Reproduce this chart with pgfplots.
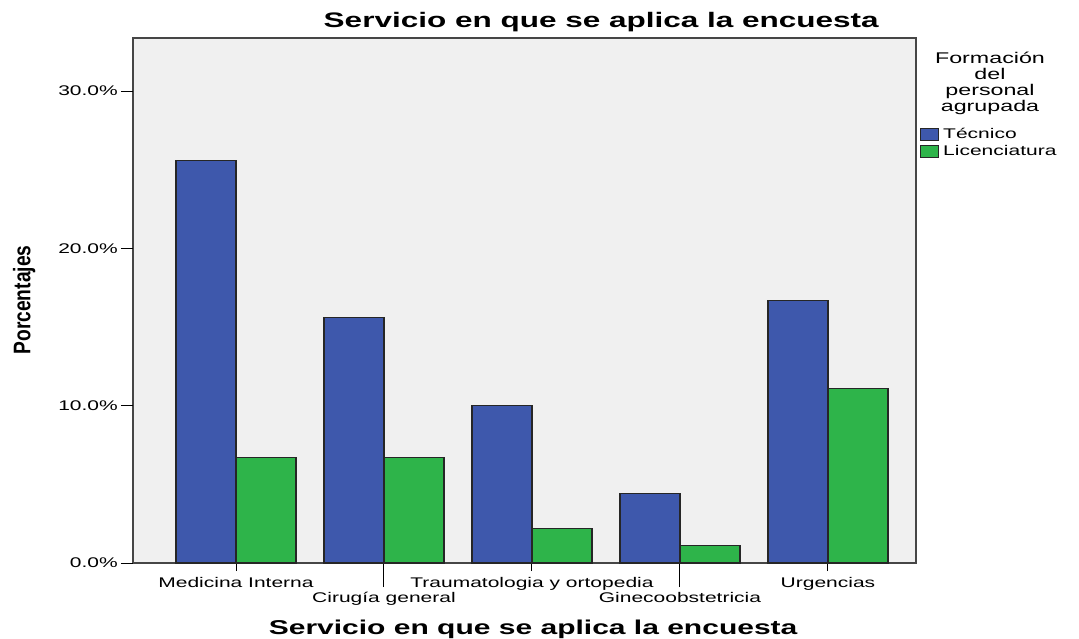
\documentclass[border=0pt]{standalone}
\usepackage{fontspec}
\setmainfont{Liberation Sans}[FakeStretch=1.5]
\newfontfamily\plainsans{Liberation Sans}
\usepackage{pgfplots}
\pgfplotsset{compat=1.18}
\definecolor{tec}{RGB}{62,88,172}
\definecolor{lic}{RGB}{46,180,74}
\definecolor{bgc}{RGB}{240,240,240}
\definecolor{frame}{RGB}{70,70,70}
\begin{document}
\begin{tikzpicture}[x=1pt,y=1pt]
\useasboundingbox (0,0) rectangle (1079,638);
\begin{axis}[
  at={(133pt,75pt)}, anchor=south west,
  scale only axis, width=783pt, height=525pt,
  xmin=-0.696, xmax=4.595, ymin=0, ymax=33.37,
  axis background/.style={fill=bgc},
  axis line style={frame, line width=1.2pt},
  ybar=0pt, bar width=60pt,
  tick align=outside, tick pos=left,
  major tick length=8pt,
  tick style={black, line width=1pt},
  xtick={0,2,4},
  xticklabels={Medicina Interna,Traumatologia y ortopedia,Urgencias},
  extra x ticks={1,3},
  extra x tick labels={Cirugía general,Ginecoobstetricia},
  extra x tick style={major tick length=24pt, tick label style={yshift=1pt}},
  xticklabel style={font=\fontsize{14}{16}\selectfont, anchor=base, yshift=-16pt},
  ytick=\empty,
  extra y ticks={0,10,20,30},
  extra y tick labels={0.0\%,10.0\%,20.0\%,30.0\%},
  extra y tick style={major tick length=12pt},
  yticklabel style={font=\fontsize{14}{16}\selectfont, anchor=east, inner sep=0pt, xshift=-3pt},
  title={Servicio en que se aplica la encuesta},
  title style={font=\fontsize{21}{25}\selectfont\bfseries, at={(0.598,1)}, anchor=base, yshift=4pt},
  xlabel={Servicio en que se aplica la encuesta},
  xlabel style={font=\fontsize{20}{24}\selectfont\bfseries, at={(0.511,0)}, anchor=base, yshift=-71pt},
  ylabel={\scalebox{0.8}[1]{\plainsans\bfseries\fontsize{24}{26}\selectfont Porcentajes}},
  ylabel style={at={(-0.139,0.501)}, anchor=center, rotate=0},
  legend style={at={(1.005,0.830)}, anchor=north west, draw=none, fill=none,
    font=\fontsize{14}{16}\selectfont, row sep=3pt, inner sep=0pt,
    nodes={inner sep=1pt, anchor=west}},
  legend cell align=left,
  legend image code/.code={\draw[#1, line width=1pt] (0pt,-6pt) rectangle (18pt,6pt); \path (21pt,0pt);},
]
\addplot[fill=tec, draw=black!85, line width=1.2pt] coordinates {(0,25.6) (1,15.6) (2,10.0) (3,4.4) (4,16.7)};
\addplot[fill=lic, draw=black!85, line width=1.2pt] coordinates {(0,6.7) (1,6.7) (2,2.2) (3,1.1) (4,11.1)};
\legend{Técnico,Licenciatura}
\end{axis}
\node[align=center, font=\fontsize{15.5}{16}\selectfont] at (990,555) {Formación\\del\\personal\\agrupada};
\end{tikzpicture}
\end{document}
